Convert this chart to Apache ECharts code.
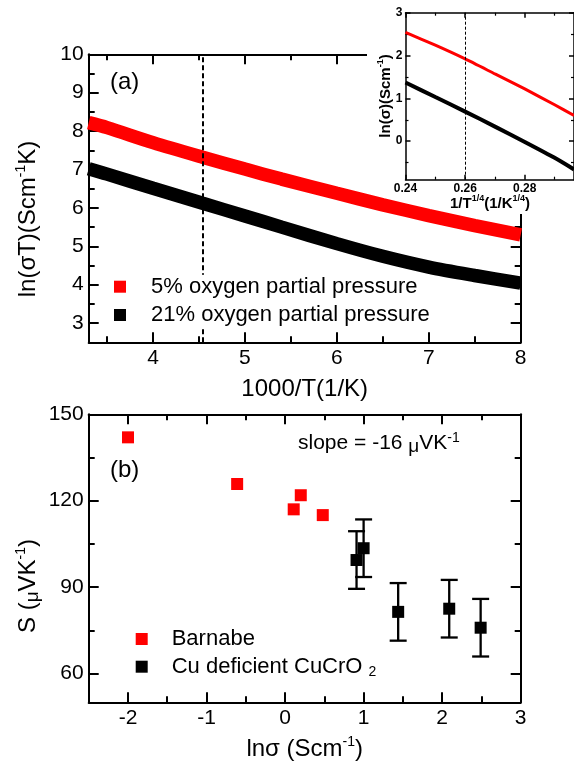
<!DOCTYPE html>
<html><head><meta charset="utf-8">
<script src="https://cdn.jsdelivr.net/npm/echarts@6/dist/echarts.min.js"></script>
<style>html,body{margin:0;padding:0;background:#fff}#c{width:574px;height:762px}</style>
</head><body><div id="c"></div>
<script>
// ---------- Panel (a): ln(sigma T) vs 1000/T ----------
const aX = [3.3, 3.5, 4.0, 4.54, 5.0, 5.4, 6.0, 6.5, 7.0, 7.5, 8.0];
const aRed = [8.22, 8.09, 7.70, 7.32, 7.01, 6.75, 6.38, 6.08, 5.80, 5.54, 5.30];
const aBlack = [7.02, 6.88, 6.51, 6.12, 5.79, 5.50, 5.07, 4.74, 4.46, 4.24, 4.04];
const aDash = 4.54;
const aXTicks = [4, 5, 6, 7, 8];
const aXMinor = [3.5, 4.5, 5.5, 6.5, 7.5];
const aYTicks = [3, 4, 5, 6, 7, 8, 9, 10];
const aYMinor = [3.5, 4.5, 5.5, 6.5, 7.5, 8.5, 9.5];

// ---------- Inset: ln(sigma) vs T^-1/4 ----------
const iX = [0.24, 0.25, 0.26, 0.27, 0.28, 0.29, 0.2965];
const iRed = [2.54, 2.24, 1.92, 1.57, 1.22, 0.85, 0.60];
const iBlack = [1.37, 1.03, 0.69, 0.34, -0.02, -0.39, -0.66];
const iDash = 0.26;
const iXTicks = [0.24, 0.26, 0.28];
const iXMinor = [0.25, 0.27, 0.29];
const iYTicks = [0, 1, 2, 3];
const iYMinor = [-0.5, 0.5, 1.5, 2.5];

// ---------- Panel (b): S vs ln sigma ----------
const bBarX = [-2.0, -0.61, 0.11, 0.20, 0.48];
const bBarY = [142.0, 125.8, 117.0, 121.9, 115.0];
const bCuX = [0.91, 1.00, 1.44, 2.09, 2.49];
const bCuY = [99.4, 103.5, 81.4, 82.5, 75.9];
const bCuErr = [10, 10, 10, 10, 10];
const bXTicks = [-2, -1, 0, 1, 2, 3];
const bXMinor = [-1.5, -0.5, 0.5, 1.5, 2.5];
const bYTicks = [60, 90, 120, 150];
const bYMinor = [75, 105, 135];

const FONT = '"Liberation Sans", Arial, Helvetica, sans-serif';
const zip = (a, b) => a.map((v, i) => [v, b[i]]);

function ax(gi, min, max, pos, ticks, len, opt) {
  opt = opt || {};
  return {
    type: 'value', gridIndex: gi, min: min, max: max, position: pos, z: opt.z || 0,
    axisLine: { show: !opt.minor, onZero: false, lineStyle: { color: '#000', width: opt.lw || 2 } },
    axisTick: { show: true, inside: true, length: len, customValues: ticks, lineStyle: { color: '#000', width: opt.lw || 2 } },
    axisLabel: opt.label ? Object.assign({ show: true, customValues: ticks, color: '#000', fontFamily: FONT }, opt.label) : { show: false },
    splitLine: { show: false }
  };
}

const mainLab = { fontSize: 21, margin: 5 };
const inLab = { fontSize: 12, fontWeight: 'bold', margin: 3 };
const iMax = 0.2965;

const xAxis = [
  ax(0, 3.3, 8, 'bottom', aXTicks, 10, { label: mainLab }),
  ax(0, 3.3, 8, 'bottom', aXMinor, 6, { minor: true }),
  ax(0, 3.3, 8, 'top', aXTicks, 10),
  ax(0, 3.3, 8, 'top', aXMinor, 6, { minor: true }),
  ax(1, -2.5, 3, 'bottom', bXTicks, 10, { label: mainLab }),
  ax(1, -2.5, 3, 'bottom', bXMinor, 6, { minor: true }),
  ax(1, -2.5, 3, 'top', bXTicks, 10),
  ax(1, -2.5, 3, 'top', bXMinor, 6, { minor: true }),
  ax(2, 0.24, iMax, 'bottom', iXTicks, 5, { label: inLab, z: 60, lw: 1.5 }),
  ax(2, 0.24, iMax, 'bottom', iXMinor, 3, { minor: true, z: 60, lw: 1.2 }),
  ax(2, 0.24, iMax, 'top', iXTicks, 5, { z: 60, lw: 1.5 }),
  ax(2, 0.24, iMax, 'top', iXMinor, 3, { minor: true, z: 60, lw: 1.2 })
];
const yAxis = [
  ax(0, 2.5, 10, 'left', aYTicks, 10, { label: mainLab }),
  ax(0, 2.5, 10, 'left', aYMinor, 6, { minor: true }),
  ax(0, 2.5, 10, 'right', aYTicks, 10),
  ax(0, 2.5, 10, 'right', aYMinor, 6, { minor: true }),
  ax(1, 50, 150, 'left', bYTicks, 10, { label: mainLab }),
  ax(1, 50, 150, 'left', bYMinor, 6, { minor: true }),
  ax(1, 50, 150, 'right', bYTicks, 10),
  ax(1, 50, 150, 'right', bYMinor, 6, { minor: true }),
  ax(2, -0.9, 3, 'left', iYTicks, 5, { label: inLab, z: 60, lw: 1.5 }),
  ax(2, -0.9, 3, 'left', iYMinor, 3, { minor: true, z: 60, lw: 1.2 }),
  ax(2, -0.9, 3, 'right', iYTicks, 5, { z: 60, lw: 1.5 }),
  ax(2, -0.9, 3, 'right', iYMinor, 3, { minor: true, z: 60, lw: 1.2 })
];

const supRich = {
  sup: { fontSize: 14, fontFamily: FONT, fill: '#000', verticalAlign: 'top', lineHeight: 14 },
  mu: { fontSize: 19, fontFamily: FONT, fill: '#000', lineHeight: 24, verticalAlign: 'bottom' }
};
const supRichB = {
  sup: { fontSize: 9, fontWeight: 'bold', fontFamily: FONT, fill: '#000', verticalAlign: 'top', lineHeight: 9 }
};

function txt(x, y, text, size, opts) {
  opts = opts || {};
  return {
    type: 'text', x: x, y: y, rotation: opts.rot || 0, z: opts.z || 70,
    style: {
      x: 0, y: 0, text: text, fontSize: size, fontFamily: FONT, fontWeight: opts.bold ? 'bold' : 'normal',
      fill: '#000', align: opts.align || 'center', textAlign: opts.align || 'center',
      verticalAlign: 'middle', textVerticalAlign: 'middle', lineHeight: size + 4,
      rich: opts.rich || supRich
    }
  };
}

const option = {
  animation: false,
  backgroundColor: '#fff',
  grid: [
    { left: 88.7, top: 54.3, width: 432, height: 288 },
    { left: 88.7, top: 414.3, width: 432, height: 288 },
    { left: 405.5, top: 12.7, width: 168.5, height: 167, z: 60 }
  ],
  xAxis: xAxis,
  yAxis: yAxis,
  legend: [
    {
      data: ['5% oxygen partial pressure', '21% oxygen partial pressure'],
      left: 114, top: 274.7, orient: 'vertical', icon: 'rect', itemWidth: 12, itemHeight: 12,
      itemGap: 4.3, padding: 0, backgroundColor: '#fff', z: 10, selectedMode: false,
      itemStyle: { borderWidth: 0 },
      textStyle: { fontSize: 22, fontFamily: FONT, color: '#000', lineHeight: 24, padding: [0, 0, 0, 20] }
    },
    {
      data: ['Barnabe', 'Cu deficient CuCrO2'],
      left: 135.7, top: 627, orient: 'vertical', icon: 'rect', itemWidth: 12, itemHeight: 12,
      itemGap: 3.7, padding: 0, z: 10, selectedMode: false,
      itemStyle: { borderWidth: 0, opacity: 1 },
      formatter: function (name) {
        return name === 'Cu deficient CuCrO2' ? '{t|Cu deficient CuCrO }{s|2}' : '{t|' + name + '}';
      },
      textStyle: {
        fontSize: 22, fontFamily: FONT, color: '#000', lineHeight: 24, padding: [0, 0, 0, 19],
        rich: {
          t: { fontSize: 22, fontFamily: FONT, color: '#000', lineHeight: 24 },
          s: { fontSize: 14, fontFamily: FONT, color: '#000', lineHeight: 10, verticalAlign: 'bottom' }
        }
      }
    }
  ],
  graphic: {
    elements: [
      { type: 'rect', z: 1, shape: { x: 367, y: 0, width: 207, height: 214 }, style: { fill: '#fff' } },
      txt(110, 82.7, '(a)', 24, { align: 'left' }),
      txt(110, 470, '(b)', 24, { align: 'left' }),
      txt(298, 443.3, 'slope = -16 {mu|μ}VK{sup|-1}', 21, { align: 'left' }),
      txt(304.7, 389, '1000/T(1/K)', 24),
      txt(28, 219, 'ln(σT)(Scm{sup|-1}K)', 24, { rot: Math.PI / 2 }),
      txt(304.7, 749, 'lnσ (Scm{sup|-1})', 24),
      txt(28, 586, 'S ({mu|μ}VK{sup|-1})', 24, { rot: Math.PI / 2 }),
      txt(490, 203.5, '1/T{sup|1/4}(1/K{sup|1/4})', 15, { bold: true, rich: supRichB }),
      txt(386, 96, 'ln(σ)(Scm{sup|-1})', 15, { bold: true, rot: Math.PI / 2, rich: supRichB })
    ]
  },
  series: [
    {
      type: 'line', name: '5% oxygen partial pressure', xAxisIndex: 0, yAxisIndex: 0,
      data: zip(aX, aRed), smooth: 0.3, showSymbol: false, z: 3,
      lineStyle: { color: '#ff0000', width: 13.5, cap: 'butt' }, itemStyle: { color: '#ff0000' },
      markLine: {
        silent: true, symbol: 'none', label: { show: false }, z: 5, animation: false,
        lineStyle: { color: '#000', type: [5, 3], width: 2 }, data: [{ xAxis: aDash }]
      }
    },
    {
      type: 'line', name: '21% oxygen partial pressure', xAxisIndex: 0, yAxisIndex: 0,
      data: zip(aX, aBlack), smooth: 0.3, showSymbol: false, z: 2,
      lineStyle: { color: '#000', width: 13.5, cap: 'butt' }, itemStyle: { color: '#000' }
    },
    {
      type: 'line', name: 'inset 5%', xAxisIndex: 8, yAxisIndex: 8,
      data: zip(iX, iRed), smooth: 0.2, showSymbol: false, z: 60,
      lineStyle: { color: '#ff0000', width: 3 }, itemStyle: { color: '#ff0000' },
      markLine: {
        silent: true, symbol: 'none', label: { show: false }, z: 61, animation: false,
        lineStyle: { color: '#000', type: [3, 2], width: 1 }, data: [{ xAxis: iDash }]
      }
    },
    {
      type: 'line', name: 'inset 21%', xAxisIndex: 8, yAxisIndex: 8,
      data: zip(iX, iBlack), smooth: 0.2, showSymbol: false, z: 60,
      lineStyle: { color: '#000', width: 4 }, itemStyle: { color: '#000' }
    },
    {
      type: 'custom', name: 'Cu error', xAxisIndex: 4, yAxisIndex: 4, z: 2,
      data: bCuX.map((x, i) => [x, bCuY[i], bCuErr[i]]),
      encode: { x: 0, y: 1 },
      renderItem: function (params, api) {
        const x = api.value(0), y = api.value(1), e = api.value(2);
        const t = api.coord([x, y + e]), b = api.coord([x, y - e]);
        const hw = 8.5, st = { stroke: '#000', lineWidth: 2.3 };
        return {
          type: 'group', children: [
            { type: 'line', shape: { x1: t[0], y1: t[1], x2: b[0], y2: b[1] }, style: st },
            { type: 'line', shape: { x1: t[0] - hw, y1: t[1], x2: t[0] + hw, y2: t[1] }, style: st },
            { type: 'line', shape: { x1: b[0] - hw, y1: b[1], x2: b[0] + hw, y2: b[1] }, style: st }
          ]
        };
      }
    },
    {
      type: 'scatter', name: 'Barnabe', xAxisIndex: 4, yAxisIndex: 4, z: 3,
      data: zip(bBarX, bBarY), symbol: 'rect', symbolSize: 12, itemStyle: { color: '#ff0000', opacity: 1 }
    },
    {
      type: 'scatter', name: 'Cu deficient CuCrO2', xAxisIndex: 4, yAxisIndex: 4, z: 3,
      data: zip(bCuX, bCuY), symbol: 'rect', symbolSize: 12, itemStyle: { color: '#000', opacity: 1 }
    }
  ]
};

const chart = echarts.init(document.getElementById('c'), null, { renderer: 'canvas' });
chart.setOption(option);
</script>
</body></html>
